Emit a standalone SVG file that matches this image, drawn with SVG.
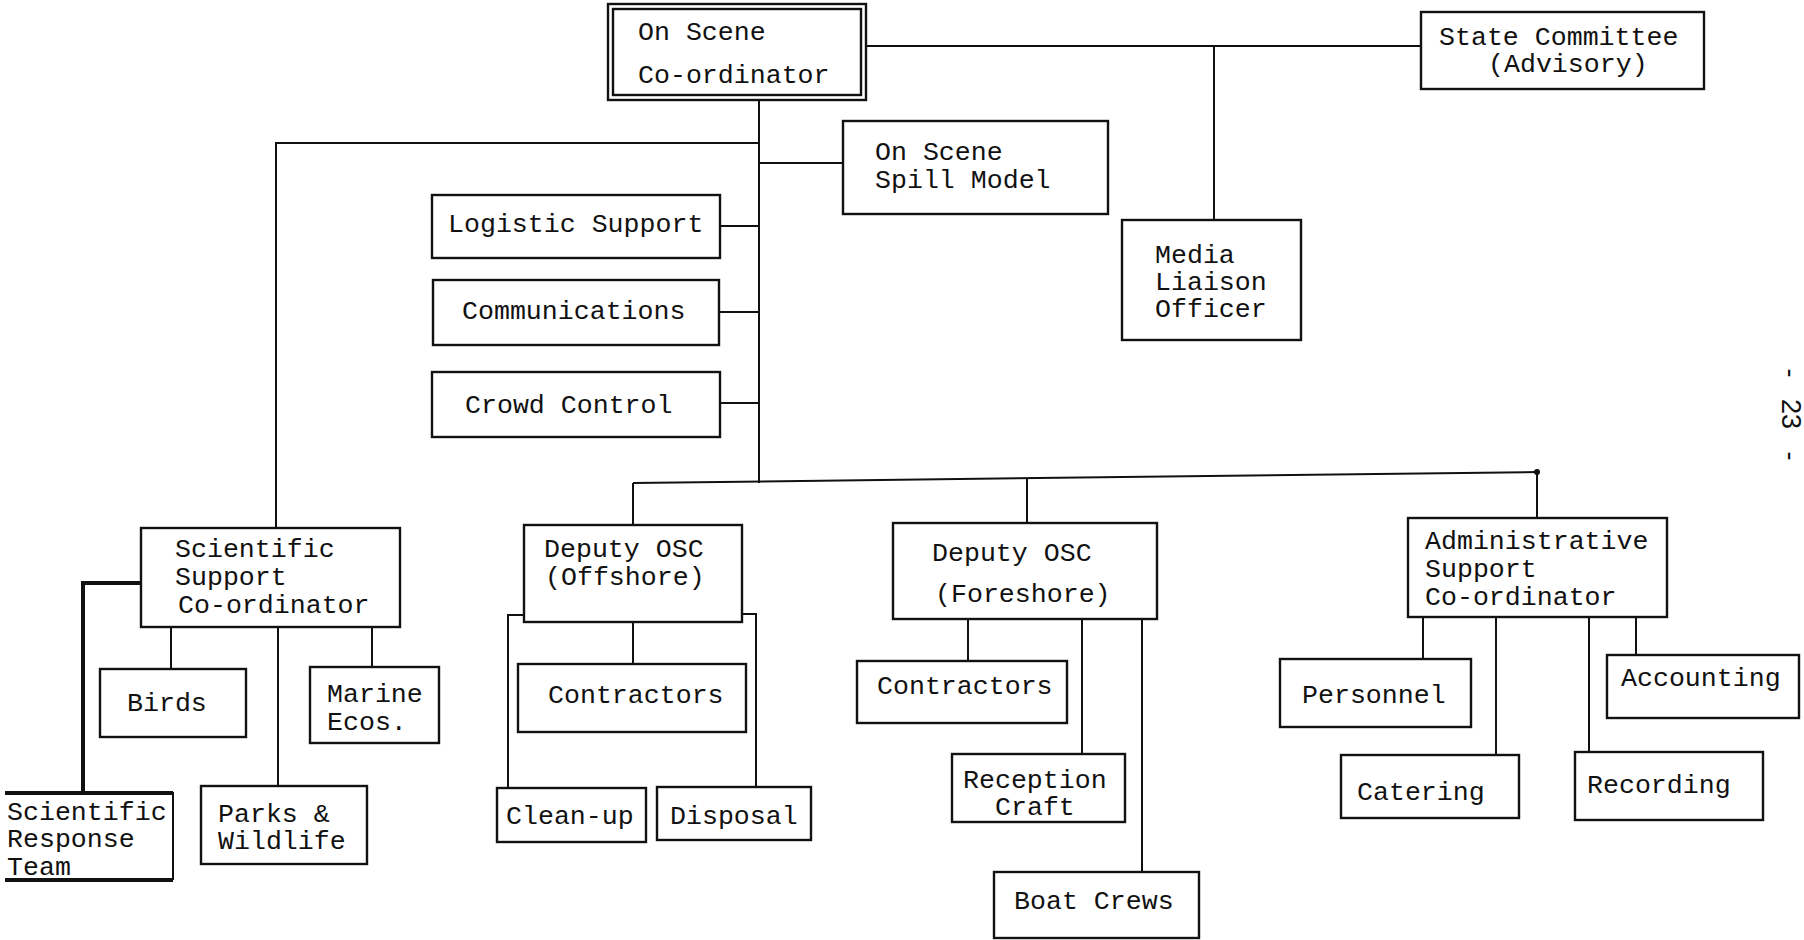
<svg xmlns="http://www.w3.org/2000/svg" width="1804" height="940" viewBox="0 0 1804 940">
<style>
.box{fill:none;stroke:#111;stroke-width:2.4}
.ln{fill:none;stroke:#111;stroke-width:2}
.thick{stroke-width:4}
text{font-family:"Liberation Mono","Courier New",monospace;font-size:26.6px;fill:#111}
.pg{font-family:"Liberation Sans",Arial,sans-serif;font-size:27px;text-anchor:middle}
</style>
<rect width="1804" height="940" fill="#fff"/>
<g id="connectors">
<path class="ln" d="M759,100 V483"/>
<path class="ln" d="M866,46 H1421"/>
<path class="ln" d="M1214,45 V220"/>
<path class="ln" d="M759,163 H843"/>
<path class="ln" d="M759,143 H276 V528"/>
<path class="ln" d="M720,226 H759"/>
<path class="ln" d="M719,312 H759"/>
<path class="ln" d="M720,403 H759"/>
<path class="ln" d="M633,483 L1537,472"/>
<path class="ln" d="M633,483 V525"/>
<path class="ln" d="M1027,479 V523"/>
<path class="ln" d="M1537,472 V518"/>
<circle cx="1537" cy="472" r="3" fill="#111"/>
<path class="ln thick" d="M141,583 H83 V792"/>
<path class="ln" d="M171,627 V669"/>
<path class="ln" d="M278,627 V786"/>
<path class="ln" d="M372,627 V667"/>
<path class="ln" d="M633,622 V664"/>
<path class="ln" d="M524,615 H508 V788"/>
<path class="ln" d="M742,614 H756 V787"/>
<path class="ln" d="M968,619 V661"/>
<path class="ln" d="M1082,619 V754"/>
<path class="ln" d="M1142,619 V872"/>
<path class="ln" d="M1423,617 V659"/>
<path class="ln" d="M1496,617 V755"/>
<path class="ln" d="M1589,617 V752"/>
<path class="ln" d="M1636,617 V655"/>
</g>
<g id="osc">
<rect class="box" x="608" y="4" width="258" height="96"/>
<rect class="box" x="613" y="9" width="248" height="86"/>
<text x="638" y="40">On Scene</text>
<text x="638" y="83">Co-ordinator</text>
</g>
<g id="state-committee">
<rect class="box" x="1421" y="12" width="283" height="77"/>
<text x="1439" y="45">State Committee</text>
<text x="1488" y="72">(Advisory)</text>
</g>
<g id="media">
<rect class="box" x="1122" y="220" width="179" height="120"/>
<text x="1155" y="263">Media</text>
<text x="1155" y="290">Liaison</text>
<text x="1155" y="317">Officer</text>
</g>
<g id="spill-model">
<rect class="box" x="843" y="121" width="265" height="93"/>
<text x="875" y="160">On Scene</text>
<text x="875" y="188">Spill Model</text>
</g>
<g id="logistic">
<rect class="box" x="432" y="195" width="288" height="63"/>
<text x="448" y="232">Logistic Support</text>
</g>
<g id="communications">
<rect class="box" x="433" y="280" width="286" height="65"/>
<text x="462" y="319">Communications</text>
</g>
<g id="crowd">
<rect class="box" x="432" y="372" width="288" height="65"/>
<text x="465" y="413">Crowd Control</text>
</g>
<g id="scientific-support">
<rect class="box" x="141" y="528" width="259" height="99"/>
<text x="175" y="557">Scientific</text>
<text x="175" y="585">Support</text>
<text x="178" y="613">Co-ordinator</text>
</g>
<g id="birds">
<rect class="box" x="100" y="669" width="146" height="68"/>
<text x="127" y="711">Birds</text>
</g>
<g id="marine">
<rect class="box" x="310" y="667" width="129" height="76"/>
<text x="327" y="702">Marine</text>
<text x="327" y="730">Ecos.</text>
</g>
<g id="response-team">
<path class="ln thick" d="M5,793 H173"/>
<path class="ln thick" d="M5,880 H173"/>
<path class="ln" d="M173,792 V880"/>
<text x="7" y="820">Scientific</text>
<text x="7" y="847">Response</text>
<text x="7" y="875">Team</text>
</g>
<g id="parks">
<rect class="box" x="201" y="786" width="166" height="78"/>
<text x="218" y="822">Parks &amp;</text>
<text x="218" y="849">Wildlife</text>
</g>
<g id="deputy-offshore">
<rect class="box" x="524" y="525" width="218" height="97"/>
<text x="544" y="557">Deputy OSC</text>
<text x="545" y="585">(Offshore)</text>
</g>
<g id="contractors-offshore">
<rect class="box" x="518" y="664" width="228" height="68"/>
<text x="548" y="703">Contractors</text>
</g>
<g id="cleanup">
<rect class="box" x="497" y="788" width="149" height="54"/>
<text x="506" y="824">Clean-up</text>
</g>
<g id="disposal">
<rect class="box" x="657" y="787" width="154" height="53"/>
<text x="670" y="824">Disposal</text>
</g>
<g id="deputy-foreshore">
<rect class="box" x="893" y="523" width="264" height="96"/>
<text x="932" y="561">Deputy OSC</text>
<text x="935" y="602">(Foreshore)</text>
</g>
<g id="contractors-foreshore">
<rect class="box" x="857" y="661" width="210" height="62"/>
<text x="877" y="694">Contractors</text>
</g>
<g id="reception">
<rect class="box" x="952" y="754" width="173" height="68"/>
<text x="963" y="788">Reception</text>
<text x="995" y="815">Craft</text>
</g>
<g id="boat-crews">
<rect class="box" x="994" y="872" width="205" height="66"/>
<text x="1014" y="909">Boat Crews</text>
</g>
<g id="admin-support">
<rect class="box" x="1408" y="518" width="259" height="99"/>
<text x="1425" y="549">Administrative</text>
<text x="1425" y="577">Support</text>
<text x="1425" y="605">Co-ordinator</text>
</g>
<g id="personnel">
<rect class="box" x="1280" y="659" width="191" height="68"/>
<text x="1302" y="703">Personnel</text>
</g>
<g id="accounting">
<rect class="box" x="1607" y="655" width="192" height="63"/>
<text x="1621" y="686">Accounting</text>
</g>
<g id="catering">
<rect class="box" x="1341" y="755" width="178" height="63"/>
<text x="1357" y="800">Catering</text>
</g>
<g id="recording">
<rect class="box" x="1575" y="752" width="188" height="68"/>
<text x="1587" y="793">Recording</text>
</g>
<g id="page-number">
<text class="pg" transform="translate(1782,373) rotate(90)">-</text>
<text class="pg" transform="translate(1782,414) rotate(90)">23</text>
<text class="pg" transform="translate(1782,456) rotate(90)">-</text>
</g>
</svg>
